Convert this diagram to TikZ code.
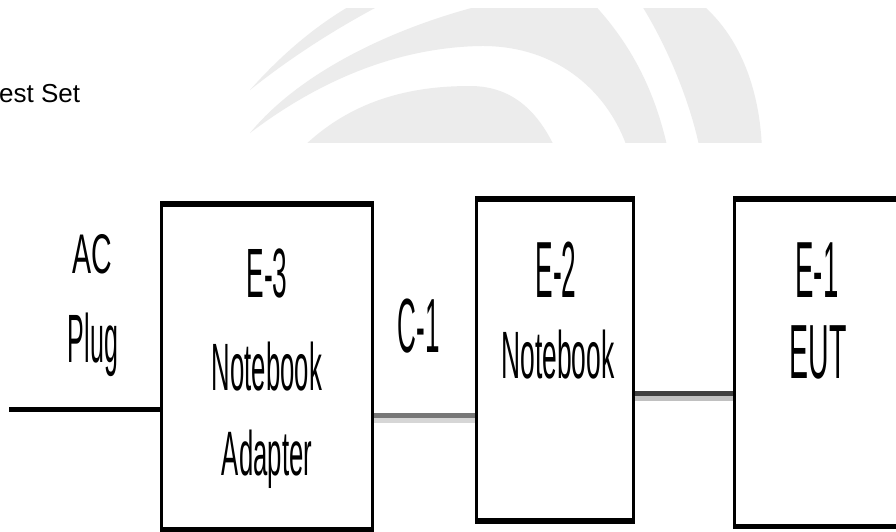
\documentclass[tikz,border=0pt]{standalone}
\usepackage{fontspec}
\setmainfont{Liberation Sans}
\usepackage{graphicx}
\definecolor{wm}{RGB}{236,236,236}
\definecolor{cabmid}{RGB}{119,119,119}
\definecolor{cabmidlt}{RGB}{214,214,214}
\definecolor{cabdark}{RGB}{64,64,64}
\definecolor{cabdarklt}{RGB}{192,192,192}
% tall, condensed label text
\newcommand\nar[3]{\scalebox{#1}[#2]{\fontsize{10}{12}\selectfont #3}}
\begin{document}
\begin{tikzpicture}[x=1pt,y=-1pt,
  box/.style={draw, line width=3pt, inner sep=0pt, anchor=center},
  edge/.style={line width=5.5pt},
  lbl/.style={anchor=base, inner sep=0pt},
  cable/.style={line width=5pt}]
\useasboundingbox (0,0) rectangle (896,531);
\clip (0,0) rectangle (896,531);
\fill[white] (0,0) rectangle (896,531);

% faint arc watermark
\begin{scope}
  \clip (0,8) rectangle (896,142);
  \fill[wm] (250,90) .. controls (290,45) and (330,15) .. (370,-5)
     -- (690,-5) .. controls (740,30) and (760,90) .. (762,150)
     -- (700,150) .. controls (690,100) and (665,40) .. (635,-5)
     -- (400,-5) .. controls (340,25) and (290,58) .. (250,90) -- cycle;
  \fill[wm] (250,133) .. controls (310,60) and (430,12) .. (530,-5)
     -- (585,-5) .. controls (630,40) and (655,90) .. (668,150)
     -- (628,150) .. controls (610,95) and (560,45) .. (480,46)
     .. controls (380,48) and (300,95) .. (250,133) -- cycle;
  \fill[wm] (300,150) .. controls (350,100) and (410,86) .. (470,86)
     .. controls (515,86) and (540,115) .. (556,150) -- cycle;
\end{scope}

\node[anchor=base west, inner sep=0pt, font=\fontsize{26}{30}\selectfont] (title) at (-1,102) {est Set};

% equipment boxes
\node[box, minimum width=211pt, minimum height=323pt] (e3) at (267,367) {};
\node[box, minimum width=156.3pt, minimum height=319.5pt] (e2) at (554.85,359.75) {};
\node[box, minimum width=176pt, minimum height=325pt] (e1) at (822.5,362.5) {};
\foreach \n in {e3,e2,e1} {
  \draw[edge] (\n.north west) -- (\n.north east);
  \draw[edge] (\n.south west) -- (\n.south east);
}

% labels
\node[lbl] (ac)   at (92,273)  {\nar{2.85}{5.59}{AC}};
\node[lbl] (plug) at (93,362)  {\nar{2.5}{6.84}{Plug}};
\node[lbl] (e3a)  at (267,297) {\nar{2.63}{6.98}{E-3}};
\node[lbl] (e3b)  at (267,390) {\nar{2.57}{6.70}{Notebook}};
\node[lbl] (e3c)  at (267,475) {\nar{2.57}{6.28}{Adapter}};
\node[lbl] (c1)   at (419,352) {\nar{2.61}{7.68}{C-1}};
\node[lbl] (e2a)  at (556,297) {\nar{2.63}{7.96}{E-2}};
\node[lbl] (e2b)  at (558,378) {\nar{2.64}{6.70}{Notebook}};
\node[lbl] (e1a)  at (817,297) {\nar{2.76}{7.96}{E-1}};
\node[lbl] (e1b)  at (818,378) {\nar{2.85}{7.68}{EUT}};

% cables
\coordinate (acend) at (9,409.7);
\draw[line width=5.5pt] (acend) -- (e3.west |- acend);
\draw[cable, cabmid]   (e3.east |- 0,415.5) -- (e2.west |- 0,415.5);
\draw[cable, cabmidlt] (e3.east |- 0,420.5) -- (e2.west |- 0,420.5);
\draw[cable, cabdark]   (e2.east |- 0,393) -- (e1.west |- 0,393);
\draw[cable, cabdarklt] (e2.east |- 0,398.3) -- (e1.west |- 0,398.3);
\end{tikzpicture}
\end{document}
